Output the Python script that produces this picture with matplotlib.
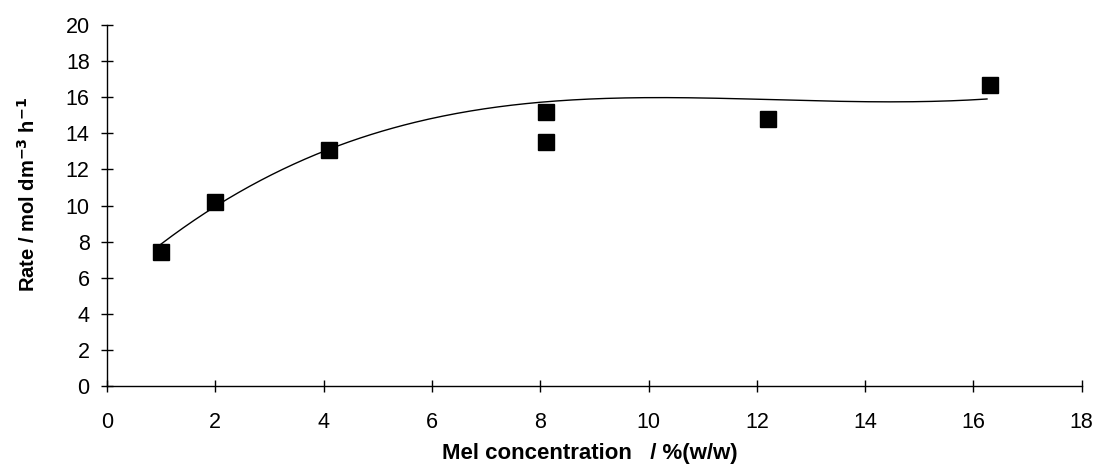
import numpy as np
import matplotlib
matplotlib.use("Agg")
import matplotlib.pyplot as plt

plt.rcParams['font.family'] = ['Liberation Sans', 'DejaVu Sans']

# measured data points
conc = [1.0, 2.0, 4.1, 8.1, 8.1, 12.2, 16.3]
rate = [7.4, 10.2, 13.1, 15.2, 13.5, 14.8, 16.7]
# trendline values
trend_x = [1.0, 2.0, 4.1, 6.3, 7.9, 10.0, 11.9, 14.3, 16.25]
trend_y = [7.7, 10.2, 13.1, 14.9, 15.7, 16.0, 15.95, 15.73, 15.9]
xticks = list(range(0, 19, 2))
yticks = list(range(0, 21, 2))

fig = plt.figure(figsize=(10.94, 4.65), dpi=100)
ax = fig.add_axes([0.0978, 0.170, 0.891, 0.776])

coef = np.polyfit(trend_x, trend_y, 3)
xs = np.linspace(trend_x[0], trend_x[-1], 300)
ax.plot(xs, np.polyval(coef, xs), color='black', lw=1.0)
ax.plot(conc, rate, linestyle='none', marker='s', markersize=11.5, color='black')

ax.set_xlim(0, 18)
ax.set_ylim(0, 20)
ax.set_xticks(xticks)
ax.set_yticks(yticks)
for s in ['top', 'right']:
    ax.spines[s].set_visible(False)
for s in ['left', 'bottom']:
    ax.spines[s].set_linewidth(1.0)
ax.tick_params(axis='both', direction='inout', length=9, width=1.0, labelsize=15.5)
ax.tick_params(axis='x', pad=14)
ax.tick_params(axis='y', pad=8)
ax.set_xlabel('Mel concentration   / %(w/w)', fontsize=16, fontweight='bold')
ax.xaxis.set_label_coords(0.495, -0.158)
ax.set_ylabel(r'Rate / mol dm$^{\mathbf{-3}}$ h$^{\mathbf{-1}}$', fontsize=14.5, fontweight='bold')
ax.yaxis.set_label_coords(-0.070, 0.53)

fig.savefig('out.png', dpi=100)
